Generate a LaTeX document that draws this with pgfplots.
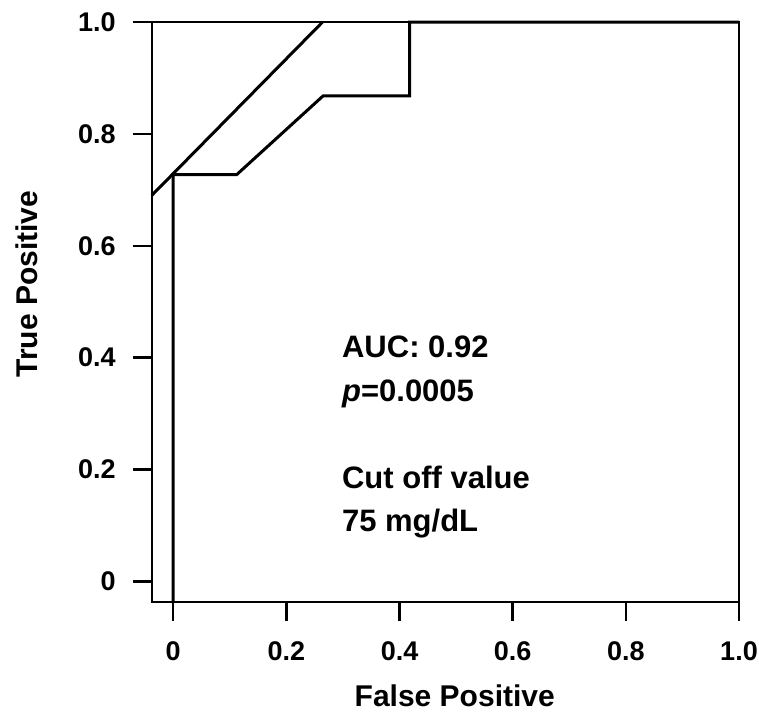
\documentclass[border=0pt]{standalone}
\usepackage{fontspec}
\setmainfont{Liberation Sans}
\usepackage{pgfplots}
\pgfplotsset{compat=1.18}

\begin{document}
\begin{tikzpicture}
\begin{axis}[
    scale only axis,
    width=293.6pt, height=289.9pt,
    xmin=-0.038, xmax=1.0,
    ymin=-0.0365, ymax=1.0,
    xtick={0,0.2,0.4,0.6,0.8,1.0},
    xticklabels={0,0.2,0.4,0.6,0.8,1.0},
    ytick={0,0.2,0.4,0.6,0.8,1.0},
    yticklabels={0,0.2,0.4,0.6,0.8,1.0},
    tick align=outside,
    xtick pos=bottom, ytick pos=left,
    major tick length=9.5pt,
    axis line style={line width=1pt},
    every tick/.style={black, line width=1.2pt},
    tick label style={font=\bfseries\fontsize{13.5}{16}\selectfont},
    xticklabel style={yshift=-7pt},
    yticklabel style={xshift=-5pt},
    label style={font=\bfseries\fontsize{15}{18}\selectfont},
    xlabel={False Positive}, ylabel={True Positive},
    xlabel style={at={(axis description cs:0.516,-0.162)}, anchor=center, inner sep=0pt},
    ylabel style={at={(axis description cs:-0.213,0.548)}, anchor=center, inner sep=0pt},
    clip=false,
]
% ROC curve
\addplot[black, line width=1.5pt, line join=miter] coordinates {
    (0,-0.0365) (0,0.727) (0.112,0.727) (0.265,0.868) (0.418,0.868) (0.418,1.0) (1.0,1.0)
};
% tangent line
\addplot[black, line width=1.5pt] coordinates {(-0.038,0.69) (0.264,1.0)};

\node[anchor=base west, font=\bfseries\fontsize{15.5}{18}\selectfont] at (axis cs:0.286,0.3995) {AUC: 0.92};
\node[anchor=base west, font=\bfseries\fontsize{15.5}{18}\selectfont] at (axis cs:0.286,0.3225) {\textit{p}=0.0005};
\node[anchor=base west, font=\bfseries\fontsize{15.5}{18}\selectfont] at (axis cs:0.286,0.167) {Cut off value};
\node[anchor=base west, font=\bfseries\fontsize{15.5}{18}\selectfont] at (axis cs:0.286,0.090) {75 mg/dL};

\coordinate (sw) at (rel axis cs:0,0);
\coordinate (ne) at (rel axis cs:1,1);
\end{axis}
\pgfresetboundingbox
\path[use as bounding box] ([shift={(-75.85pt,-55.65pt)}]sw) rectangle ([shift={(10pt,11pt)}]ne);
\end{tikzpicture}
\end{document}
